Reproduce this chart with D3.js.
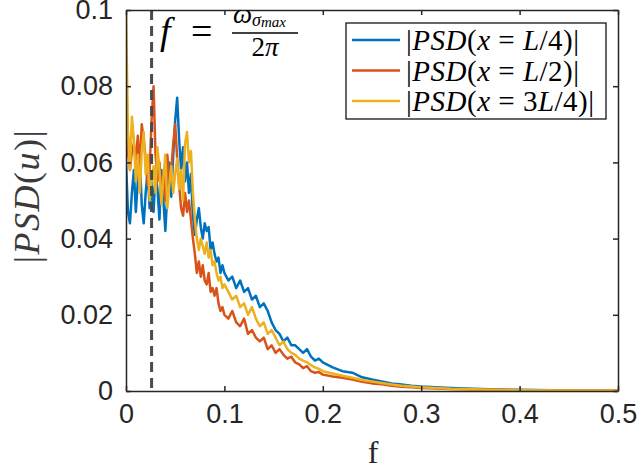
<!doctype html>
<html lang="en">
<head>
  <meta charset="utf-8">
  <title>PSD</title>
  <script src="https://cdn.jsdelivr.net/npm/d3@7/dist/d3.min.js"></script>
</head>
<body style="margin:0;background:#fff">
<style>
.tick text { font: 27px "Liberation Sans", Arial, sans-serif; fill: #262626; }
text.serif, .serif text { font-family: "Liberation Serif", "Times New Roman", serif; fill: #000; }
</style>
<svg id="chart" width="638" height="471"></svg>
<script>
// frequencies
var freq = [0,0.002,0.004,0.006,0.008,0.010,0.012,0.014,0.016,0.018,0.020,0.022,0.024,0.026,0.028,0.030,0.032,0.034,0.036,0.038,0.040,0.042,0.044,0.046,0.048,0.050,0.052,0.054,0.056,0.058,0.060,0.062,0.064,0.066,0.068,0.070,0.072,0.074,0.076,0.078,0.080,0.082,0.084,0.086,0.088,0.090,0.092,0.094,0.096,0.098,0.100,
  0.104,0.108,0.112,0.116,0.120,0.124,0.128,0.132,0.136,0.140,0.144,0.148,0.152,0.156,0.160,0.164,0.168,0.172,0.176,0.180,0.184,0.188,0.192,0.196,0.200,
  0.21,0.22,0.23,0.24,0.25,0.26,0.27,0.28,0.29,0.30,0.33,0.36,0.40,0.45,0.50];

var psdQuarter = [0.060,0.047,0.044,0.052,0.058,0.047,0.055,0.061,0.049,0.044,0.052,0.058,0.048,0.055,0.047,0.057,0.053,0.045,0.058,0.050,0.042,0.052,0.060,0.051,0.062,0.071,0.077,0.066,0.058,0.064,0.055,0.060,0.052,0.057,0.046,0.041,0.045,0.048,0.043,0.040,0.044,0.042,0.043,0.037,0.039,0.036,0.034,0.035,0.031,0.033,0.031,
  0.029,0.030,0.027,0.029,0.026,0.027,0.024,0.025,0.022,0.023,0.021,0.018,0.016,0.015,0.013,0.014,0.012,0.012,0.011,0.010,0.011,0.009,0.008,0.0085,0.0075,
  0.0062,0.0052,0.0048,0.0036,0.0030,0.0025,0.0020,0.0017,0.0014,0.0012,0.0008,0.0005,0.0003,0.00015,0.0001];

var psdHalf = [0.060,0.067,0.058,0.063,0.065,0.060,0.067,0.058,0.070,0.066,0.061,0.054,0.058,0.071,0.080,0.062,0.055,0.060,0.052,0.057,0.050,0.062,0.055,0.058,0.065,0.070,0.061,0.054,0.048,0.046,0.052,0.047,0.050,0.045,0.040,0.036,0.031,0.034,0.030,0.033,0.029,0.028,0.031,0.026,0.027,0.025,0.027,0.023,0.021,0.022,0.020,
  0.019,0.021,0.018,0.017,0.019,0.015,0.016,0.014,0.013,0.014,0.011,0.012,0.010,0.011,0.0095,0.0085,0.0090,0.0075,0.0070,0.0060,0.0065,0.0052,0.0048,0.0050,0.0043,
  0.0038,0.0035,0.0030,0.0024,0.0020,0.0018,0.0014,0.0011,0.0010,0.0008,0.0005,0.0004,0.0002,0.0001,0.0001];

var psdThreeQuarter = [0.100,0.068,0.058,0.072,0.066,0.055,0.062,0.052,0.063,0.068,0.057,0.062,0.050,0.055,0.059,0.052,0.064,0.058,0.049,0.056,0.062,0.048,0.054,0.059,0.052,0.057,0.061,0.053,0.058,0.050,0.065,0.068,0.060,0.063,0.052,0.045,0.040,0.037,0.040,0.038,0.036,0.039,0.035,0.037,0.033,0.034,0.031,0.029,0.030,0.027,0.028,
  0.026,0.024,0.025,0.022,0.023,0.020,0.022,0.019,0.017,0.018,0.015,0.016,0.014,0.012,0.013,0.011,0.010,0.0095,0.0085,0.0080,0.0075,0.0068,0.0062,0.0058,0.0052,
  0.0046,0.0040,0.0035,0.0029,0.0025,0.0021,0.0017,0.0014,0.0012,0.0010,0.0006,0.0004,0.0002,0.0001,0.0001];

var xTicks = [0, 0.1, 0.2, 0.3, 0.4, 0.5];
var yTicks = [0, 0.02, 0.04, 0.06, 0.08, 0.1];
var fMarker = 0.026;

var series = [
  {name: "L/4", values: psdQuarter, color: "#0072BD"},
  {name: "L/2", values: psdHalf, color: "#D95319"},
  {name: "3L/4", values: psdThreeQuarter, color: "#EDB120"}
];

var padL = 126, padR = 618, padT = 10, padB = 391;
var svg = d3.select("#chart");

var x = d3.scaleLinear().domain([0, 0.5]).range([padL, padR]);
var y = d3.scaleLinear().domain([0, 0.1]).range([padB, padT]);

var line = d3.line()
  .x(function(d) { return x(d[0]); })
  .y(function(d) { return y(d[1]); });

svg.append("defs").append("clipPath").attr("id", "clip")
  .append("rect").attr("x", padL).attr("y", padT - 1).attr("width", padR - padL).attr("height", padB - padT + 1);

var plot = svg.append("g").attr("clip-path", "url(#clip)");

series.forEach(function(s) {
  plot.append("path")
    .datum(freq.map(function(f, i) { return [f, s.values[i]]; }))
    .attr("fill", "none")
    .attr("stroke", s.color)
    .attr("stroke-width", 2.5)
    .attr("stroke-linejoin", "round")
    .attr("d", line);
});

// dashed marker
svg.append("line")
  .attr("x1", x(fMarker)).attr("x2", x(fMarker))
  .attr("y1", y(0.1)).attr("y2", y(0))
  .attr("stroke", "#4a4a4a").attr("stroke-width", 3)
  .attr("stroke-dasharray", "10,6");

// axes, box style with inward ticks
function styleAxis(g) {
  g.select(".domain").attr("stroke", "#262626").attr("stroke-width", 1.5);
  g.selectAll(".tick line").attr("stroke", "#262626").attr("stroke-width", 1.5);
}
svg.append("g").attr("transform", "translate(0," + padB + ")")
  .call(d3.axisBottom(x).tickValues(xTicks).tickSize(-5).tickPadding(13).tickSizeOuter(0)
    .tickFormat(function(d) { return String(d); }))
  .call(styleAxis);
svg.append("g").attr("transform", "translate(0," + padT + ")")
  .call(d3.axisTop(x).tickValues(xTicks).tickSize(-5).tickSizeOuter(0).tickFormat(""))
  .call(styleAxis);
svg.append("g").attr("transform", "translate(" + padL + ",0)")
  .call(d3.axisLeft(y).tickValues(yTicks).tickSize(-5).tickPadding(13).tickSizeOuter(0)
    .tickFormat(function(d) { return String(+d.toFixed(2)); }))
  .call(styleAxis);
svg.append("g").attr("transform", "translate(" + padR + ",0)")
  .call(d3.axisRight(y).tickValues(yTicks).tickSize(-5).tickSizeOuter(0).tickFormat(""))
  .call(styleAxis);
svg.selectAll(".tick text").attr("font-family", null).attr("font-size", null);

// axis labels
svg.append("text").attr("class", "serif")
  .attr("x", 373).attr("y", 463).attr("text-anchor", "middle")
  .style("font-size", "32px").style("fill", "#262626").text("f");

var yl = svg.append("text").attr("class", "serif")
  .attr("transform", "translate(39,196) rotate(-90)")
  .attr("text-anchor", "middle").style("font-size", "36px")
  .style("letter-spacing", "1.5px").style("fill", "#3a3a3a");
yl.append("tspan").text("|");
yl.append("tspan").attr("font-style", "italic").text("PSD");
yl.append("tspan").text("(");
yl.append("tspan").attr("font-style", "italic").text("u");
yl.append("tspan").text(")|");

// annotation f = omega / 2pi
var ann = svg.append("g").attr("class", "serif");
ann.append("text").attr("x", 160).attr("y", 44).attr("font-style", "italic")
  .style("font-size", "38px").text("f");
ann.append("text").attr("x", 191).attr("y", 44).style("font-size", "38px").text("=");
var num = ann.append("text").attr("x", 233).attr("y", 23).style("font-size", "27px").attr("font-style", "italic");
num.append("tspan").text("ω");
num.append("tspan").attr("dy", 3).style("font-size", "18px").text("σ");
num.append("tspan").attr("dy", 1).style("font-size", "15px").text("max");
ann.append("line").attr("x1", 232).attr("x2", 298).attr("y1", 33).attr("y2", 33)
  .attr("stroke", "#000").attr("stroke-width", 1.5);
var den = ann.append("text").attr("x", 265).attr("y", 56).attr("text-anchor", "middle").style("font-size", "27px");
den.append("tspan").text("2");
den.append("tspan").attr("font-style", "italic").text("π");

// legend
var lg = svg.append("g");
lg.append("rect").attr("x", 346).attr("y", 23).attr("width", 260).attr("height", 96)
  .attr("fill", "#fff").attr("stroke", "#000").attr("stroke-width", 1.2);
series.forEach(function(s, i) {
  var ly = 40 + i * 30.5;
  lg.append("line").attr("x1", 352).attr("x2", 400).attr("y1", ly).attr("y2", ly)
    .attr("stroke", s.color).attr("stroke-width", 2.5);
  var t = lg.append("text").attr("class", "serif").attr("x", 406).attr("y", ly + 10)
    .style("font-size", "29px").style("letter-spacing", "0.5px");
  t.append("tspan").text("|");
  t.append("tspan").attr("font-style", "italic").text("PSD");
  t.append("tspan").text("(");
  t.append("tspan").attr("font-style", "italic").text("x");
  t.append("tspan").text(" = ");
  var parts = s.name.split("L");
  if (parts[0]) t.append("tspan").text(parts[0]);
  t.append("tspan").attr("font-style", "italic").text("L");
  t.append("tspan").text(parts[1] + ")|");
});
</script>
</body>
</html>
